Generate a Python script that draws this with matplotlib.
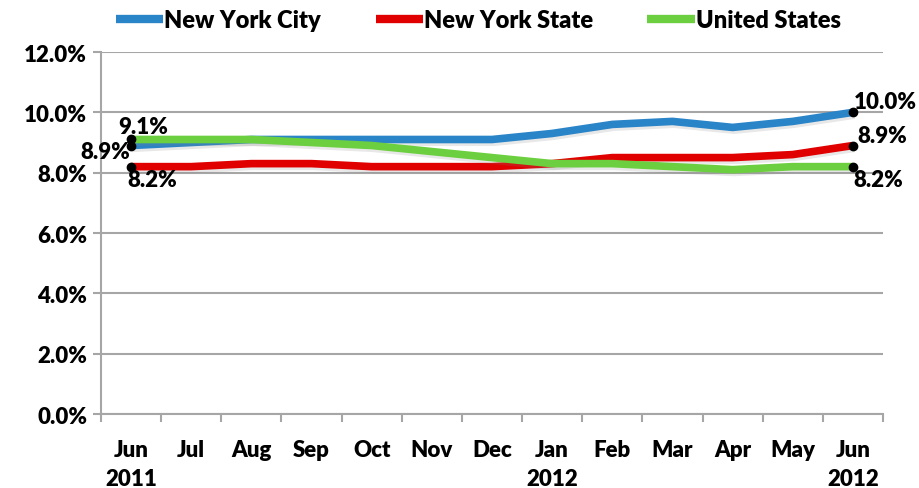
import matplotlib
matplotlib.use("Agg")
import matplotlib.pyplot as plt
import matplotlib.patheffects as pe
import numpy as np

plt.rcParams['font.family'] = ['Lato', 'DejaVu Sans']
plt.rcParams['font.weight'] = 'heavy'

# monthly unemployment rate, Jun 2011 - Jun 2012
months = ['Jun\n2011', 'Jul', 'Aug', 'Sep', 'Oct', 'Nov', 'Dec',
          'Jan\n2012', 'Feb', 'Mar', 'Apr', 'May', 'Jun\n2012']
nyc = [8.9, 9.0, 9.1, 9.1, 9.1, 9.1, 9.1, 9.3, 9.6, 9.7, 9.5, 9.7, 10.0]
nys = [8.2, 8.2, 8.3, 8.3, 8.2, 8.2, 8.2, 8.3, 8.5, 8.5, 8.5, 8.6, 8.9]
usa = [9.1, 9.1, 9.1, 9.0, 8.9, 8.7, 8.5, 8.3, 8.3, 8.2, 8.1, 8.2, 8.2]

series = [('New York City', nyc, '#2a84c8'),
          ('New York State', nys, '#e00000'),
          ('United States', usa, '#6ccf3f')]

fig = plt.figure(figsize=(9.2, 4.89), dpi=100)
ax = fig.add_axes([0.1098, 0.1513, 0.85, 0.7403])

x = np.arange(len(months))
shadow = [pe.SimpleLineShadow(offset=(1, -2), shadow_color='gray', alpha=0.18), pe.Normal()]
for name, vals, col in series:
    ax.plot(x, vals, color=col, lw=5.5, label=name, solid_capstyle='butt',
            path_effects=shadow, zorder=3)
    ax.plot([x[0], x[-1]], [vals[0], vals[-1]], 'o', color='black', ms=6, zorder=4)

# data labels at start and end
fs = 16
ax.annotate(f'{usa[0]:.1f}%', (x[0], usa[0]), xytext=(-9, 2), textcoords='offset points',
            ha='left', va='bottom', fontsize=fs)
ax.annotate(f'{nyc[0]:.1f}%', (x[0], nyc[0]), xytext=(-1, -4), textcoords='offset points',
            ha='right', va='center', fontsize=fs)
ax.annotate(f'{nys[0]:.1f}%', (x[0], nys[0]), xytext=(-3, -2), textcoords='offset points',
            ha='left', va='top', fontsize=fs)
ax.annotate(f'{nyc[-1]:.1f}%', (x[-1], nyc[-1]), xytext=(1, 0), textcoords='offset points',
            ha='left', va='bottom', fontsize=fs)
ax.annotate(f'{nys[-1]:.1f}%', (x[-1], nys[-1]), xytext=(3, 0), textcoords='offset points',
            ha='left', va='bottom', fontsize=fs)
ax.annotate(f'{usa[-1]:.1f}%', (x[-1], usa[-1]), xytext=(0, -2), textcoords='offset points',
            ha='left', va='top', fontsize=fs)

ax.set_xlim(-0.5, len(months) - 0.5)
ax.set_ylim(0, 12)
ax.set_yticks(np.arange(0, 12.1, 2))
ax.set_yticklabels([f'{v:.1f}%' for v in np.arange(0, 12.1, 2)])
ax.set_xticks(x)
ax.set_xticklabels(months, linespacing=1.45, va='top')
ax.set_xticks(np.arange(-0.5, len(months)), minor=True)

ax.grid(axis='y', color='#a6a6a6', lw=1.5)
ax.set_axisbelow(True)
for s in ['top', 'right']:
    ax.spines[s].set_visible(False)
for s in ['left', 'bottom']:
    ax.spines[s].set_color('#a6a6a6')
    ax.spines[s].set_linewidth(1.5)
ax.tick_params(axis='y', length=6, width=1.5, color='#a6a6a6', labelsize=fs, pad=4)
ax.tick_params(axis='x', which='major', length=0, labelsize=fs, pad=18)
ax.tick_params(axis='x', which='minor', length=6, width=1.5, color='#a6a6a6')

leg = fig.legend(loc='upper center', bbox_to_anchor=(0.52, 1.022), ncol=3, frameon=False,
                 fontsize=17, handlelength=2.0, handletextpad=0.05, columnspacing=2.3)
for h in leg.get_lines():
    h.set_linewidth(6)
    h.set_path_effects([])

fig.savefig('out.png', dpi=100)
